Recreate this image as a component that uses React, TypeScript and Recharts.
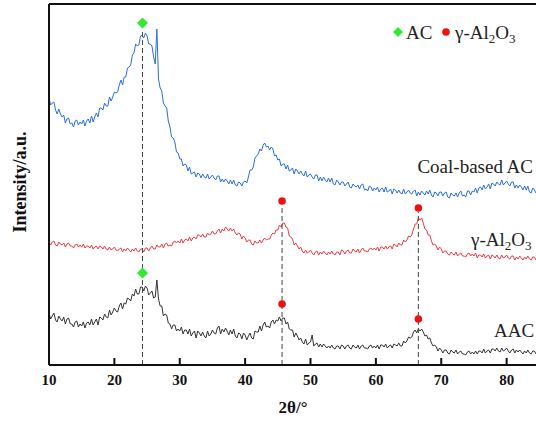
import React from "react";
import { ComposedChart, Line, Scatter, XAxis, YAxis, ReferenceLine } from "recharts";

// scan: 10° to 85°, step 0.25° (intensities in arbitrary units, offset stacked)
const THETA_START = 10;
const THETA_STEP = 0.25;

const coalBasedAC = [
  267, 260, 262, 263, 255, 251, 256, 251, 248, 250, 242, 246, 247, 241, 242, 238, 244, 245, 240, 243,
  241, 245, 239, 244, 246, 242, 249, 243, 248, 252, 248, 257, 257, 255, 262, 259, 259, 268, 264, 268,
  273, 272, 273, 280, 285, 280, 288, 288, 297, 298, 300, 310, 312, 321, 319, 320, 329, 330, 327, 332,
  329, 321, 321, 319, 308, 301, 336, 286, 277, 274, 262, 259, 257, 244, 238, 228, 227, 223, 213, 212,
  206, 206, 199, 201, 200, 194, 198, 191, 192, 193, 188, 192, 191, 187, 191, 188, 187, 191, 186, 188,
  190, 187, 185, 189, 189, 183, 186, 183, 186, 184, 181, 185, 181, 185, 180, 179, 183, 182, 179, 183,
  184, 182, 188, 195, 195, 198, 207, 209, 211, 216, 214, 220, 222, 218, 219, 215, 218, 216, 209, 210,
  205, 206, 199, 201, 201, 196, 200, 194, 195, 197, 191, 196, 194, 191, 194, 191, 189, 194, 188, 190,
  191, 188, 186, 190, 190, 184, 188, 184, 188, 185, 183, 187, 183, 187, 181, 180, 185, 183, 180, 183,
  183, 179, 181, 183, 178, 177, 181, 179, 178, 180, 176, 180, 181, 175, 176, 174, 179, 178, 174, 177,
  175, 178, 173, 176, 177, 173, 178, 173, 174, 176, 171, 176, 175, 172, 175, 172, 171, 176, 171, 173,
  175, 172, 171, 174, 175, 169, 173, 170, 174, 172, 170, 174, 171, 175, 170, 168, 173, 172, 169, 173,
  173, 169, 172, 173, 168, 167, 172, 170, 169, 172, 168, 172, 174, 169, 170, 168, 174, 174, 170, 174,
  173, 177, 172, 177, 178, 175, 180, 176, 178, 181, 176, 182, 181, 179, 183, 181, 180, 185, 180, 182,
  184, 181, 179, 183, 183, 177, 180, 177, 180, 178, 175, 179, 175, 179, 173, 172, 177, 175, 172, 176,
  174,
];

const gammaAl2O3 = [
  123, 120, 123, 124, 120, 119, 123, 121, 120, 122, 118, 121, 122, 119, 119, 117, 120, 121, 118, 120,
  118, 121, 117, 119, 119, 117, 120, 116, 118, 119, 116, 119, 118, 116, 119, 116, 115, 118, 115, 116,
  118, 115, 114, 116, 117, 113, 116, 114, 117, 115, 113, 116, 114, 117, 114, 113, 116, 116, 113, 117,
  117, 114, 117, 119, 116, 116, 120, 118, 118, 121, 117, 121, 122, 119, 120, 119, 123, 124, 122, 124,
  122, 126, 122, 125, 126, 124, 128, 124, 127, 128, 126, 130, 130, 128, 131, 128, 128, 132, 130, 131,
  134, 131, 131, 134, 136, 132, 136, 134, 138, 136, 134, 137, 134, 136, 132, 130, 132, 131, 126, 129,
  127, 123, 125, 125, 121, 120, 124, 122, 122, 125, 122, 125, 127, 125, 126, 126, 130, 132, 131, 135,
  135, 140, 138, 142, 142, 138, 137, 129, 128, 126, 120, 122, 119, 116, 118, 114, 112, 115, 112, 113,
  115, 112, 110, 113, 114, 110, 113, 111, 114, 112, 110, 113, 111, 114, 111, 110, 113, 113, 110, 115,
  114, 111, 114, 115, 112, 112, 116, 114, 113, 116, 112, 115, 117, 114, 114, 113, 116, 117, 115, 117,
  115, 118, 114, 118, 118, 116, 119, 116, 118, 119, 116, 121, 120, 118, 122, 120, 120, 125, 123, 125,
  129, 128, 130, 136, 141, 141, 147, 145, 147, 142, 136, 135, 130, 130, 124, 120, 121, 119, 115, 118,
  116, 112, 114, 114, 111, 110, 113, 111, 110, 113, 109, 111, 112, 109, 109, 108, 111, 112, 109, 111,
  109, 112, 107, 110, 110, 108, 111, 107, 109, 110, 106, 110, 109, 107, 110, 107, 106, 110, 107, 108,
  110, 107, 106, 109, 109, 105, 108, 106, 109, 107, 105, 108, 106, 109, 106, 105, 108, 108, 105, 109,
  107,
];

const aac = [
  52, 46, 49, 52, 45, 43, 49, 46, 44, 48, 41, 46, 47, 41, 41, 38, 43, 44, 38, 41,
  39, 43, 37, 42, 43, 40, 46, 40, 43, 46, 40, 48, 47, 45, 51, 48, 47, 55, 50, 53,
  57, 54, 53, 59, 62, 56, 62, 61, 67, 66, 64, 71, 69, 76, 71, 71, 78, 78, 74, 79,
  77, 70, 72, 74, 67, 68, 85, 66, 59, 59, 49, 51, 50, 42, 41, 36, 40, 40, 34, 36,
  34, 38, 31, 35, 35, 31, 36, 29, 32, 34, 27, 34, 32, 29, 33, 29, 27, 34, 29, 31,
  35, 32, 31, 37, 39, 31, 36, 33, 37, 34, 30, 35, 31, 36, 29, 27, 32, 31, 26, 32,
  30, 25, 29, 32, 27, 26, 34, 33, 33, 39, 34, 40, 43, 38, 39, 37, 43, 45, 41, 45,
  44, 48, 44, 47, 47, 41, 43, 36, 35, 35, 28, 32, 29, 25, 27, 23, 21, 26, 20, 22,
  23, 30, 19, 21, 22, 18, 21, 18, 21, 19, 17, 19, 17, 20, 17, 16, 19, 19, 16, 20,
  19, 16, 19, 20, 17, 16, 20, 18, 17, 20, 16, 19, 20, 17, 17, 16, 19, 20, 17, 19,
  17, 20, 16, 20, 20, 18, 21, 17, 19, 20, 17, 21, 20, 19, 22, 19, 19, 24, 22, 24,
  28, 27, 28, 33, 35, 32, 36, 34, 36, 33, 29, 30, 26, 27, 22, 19, 20, 18, 14, 17,
  15, 12, 15, 15, 12, 11, 15, 13, 12, 15, 11, 13, 14, 11, 11, 10, 13, 14, 11, 13,
  11, 14, 11, 14, 14, 12, 16, 12, 14, 15, 12, 16, 16, 14, 17, 14, 13, 17, 14, 15,
  17, 14, 12, 15, 16, 12, 15, 13, 15, 13, 11, 14, 12, 15, 12, 11, 14, 14, 11, 15,
  13,
];

const acPeaks = [
  { theta: 24.3, mark: 342 },
  { theta: 24.3, mark: 92 },
];

const aluminaPeaks = [
  { theta: 45.65, mark: 164 },
  { theta: 66.5, mark: 157 },
  { theta: 45.65, mark: 61 },
  { theta: 66.5, mark: 46 },
];

const guideLines = [
  { theta: 24.3, top: 336 },
  { theta: 45.65, top: 159 },
  { theta: 66.5, top: 153 },
];

const xTicks = [10, 20, 30, 40, 50, 60, 70, 80];

const data = coalBasedAC.map((v, i) => ({
  theta: THETA_START + i * THETA_STEP,
  coal: v,
  alumina: gammaAl2O3[i],
  aac: aac[i],
}));

const FONT = "Liberation Serif";
const GREEN = "#33e833";
const RED = "#f01010";

function BottomTick(props: any) {
  const { x, y, payload } = props;
  return (
    <g>
      <line x1={x} x2={x} y1={y} y2={y - 7} stroke="#111" strokeWidth={2} />
      <text
        x={x}
        y={y + 20}
        textAnchor="middle"
        fontFamily={FONT}
        style={{ fontFamily: FONT }}
        fontWeight="bold"
        fontSize={15}
        fill="#111"
      >
        {payload.value}
      </text>
    </g>
  );
}

function Diamond(props: any) {
  const { cx, cy } = props;
  return <path d={`M${cx},${cy - 5.5}L${cx + 5.5},${cy}L${cx},${cy + 5.5}L${cx - 5.5},${cy}Z`} fill={GREEN} />;
}

function Dot(props: any) {
  const { cx, cy } = props;
  return <circle cx={cx} cy={cy} r={3.8} fill={RED} />;
}

const labelStyle = { fontFamily: FONT };

export default function App() {
  return (
    <div style={{ position: "absolute", left: 0, top: 0, width: 536, height: 423, overflow: "hidden", background: "white" }}>
      <ComposedChart width={600} height={423} data={data} margin={{ top: 0, right: 28, bottom: 0, left: 0 }}>
        <XAxis
          xAxisId="top"
          orientation="top"
          dataKey="theta"
          type="number"
          domain={[10, 90]}
          height={4}
          tick={false}
          tickLine={false}
          axisLine={{ stroke: "#111", strokeWidth: 2 }}
        />
        <XAxis
          dataKey="theta"
          type="number"
          domain={[10, 90]}
          ticks={xTicks}
          height={58}
          tickSize={0}
          tickMargin={0}
          tickLine={false}
          tick={<BottomTick />}
          axisLine={{ stroke: "#111", strokeWidth: 2 }}
        />
        <YAxis
          type="number"
          domain={[0, 361]}
          width={49}
          tick={false}
          tickLine={false}
          axisLine={{ stroke: "#111", strokeWidth: 2 }}
        />
        <Line type="linear" dataKey="coal" stroke="#2a6ee0" strokeWidth={1} dot={false} isAnimationActive={false} />
        <Line type="linear" dataKey="alumina" stroke="#f03a44" strokeWidth={1} dot={false} isAnimationActive={false} />
        <Line type="linear" dataKey="aac" stroke="#333333" strokeWidth={1} dot={false} isAnimationActive={false} />
        {guideLines.map((g) => (
          <ReferenceLine
            key={g.theta}
            segment={[{ x: g.theta, y: 0 }, { x: g.theta, y: g.top }]}
            stroke="#444"
            strokeWidth={1}
            strokeDasharray="5 3"
            ifOverflow="visible"
          />
        ))}
        <Scatter data={acPeaks} dataKey="mark" shape={<Diamond />} isAnimationActive={false} />
        <Scatter data={aluminaPeaks} dataKey="mark" shape={<Dot />} isAnimationActive={false} />
      </ComposedChart>
      <svg width={536} height={423} style={{ position: "absolute", left: 0, top: 0, pointerEvents: "none" }}>
        <text
          transform="translate(26,182) rotate(-90)"
          textAnchor="middle"
          fontFamily={FONT}
          style={labelStyle}
          fontWeight="bold"
          fontSize={18}
          fill="#111"
        >
          Intensity/a.u.
        </text>
        <text x={293} y={413} textAnchor="middle" fontFamily={FONT} style={labelStyle} fontWeight="bold" fontSize={17} fill="#111">
          2θ/°
        </text>
        <path d="M398,27 L403,32 L398,37 L393,32 Z" fill={GREEN} />
        <text x={406} y={39} fontFamily={FONT} style={labelStyle} fontSize={19} fill="#222">AC</text>
        <circle cx={446} cy={32} r={3.8} fill={RED} />
        <text x={455} y={39} fontFamily={FONT} style={labelStyle} fontSize={19} fill="#222">
          γ-Al<tspan fontSize={13} dy={4}>2</tspan>
          <tspan dy={-4}>O</tspan>
          <tspan fontSize={13} dy={4}>3</tspan>
        </text>
        <text x={533} y={173} textAnchor="end" fontFamily={FONT} style={labelStyle} fontSize={19} fill="#222">
          Coal-based AC
        </text>
        <text x={471} y={246} fontFamily={FONT} style={labelStyle} fontSize={19} fill="#222">
          γ-Al<tspan fontSize={13} dy={4}>2</tspan>
          <tspan dy={-4}>O</tspan>
          <tspan fontSize={13} dy={4}>3</tspan>
        </text>
        <text x={494} y={337} fontFamily={FONT} style={labelStyle} fontSize={19} fill="#222">AAC</text>
      </svg>
    </div>
  );
}
